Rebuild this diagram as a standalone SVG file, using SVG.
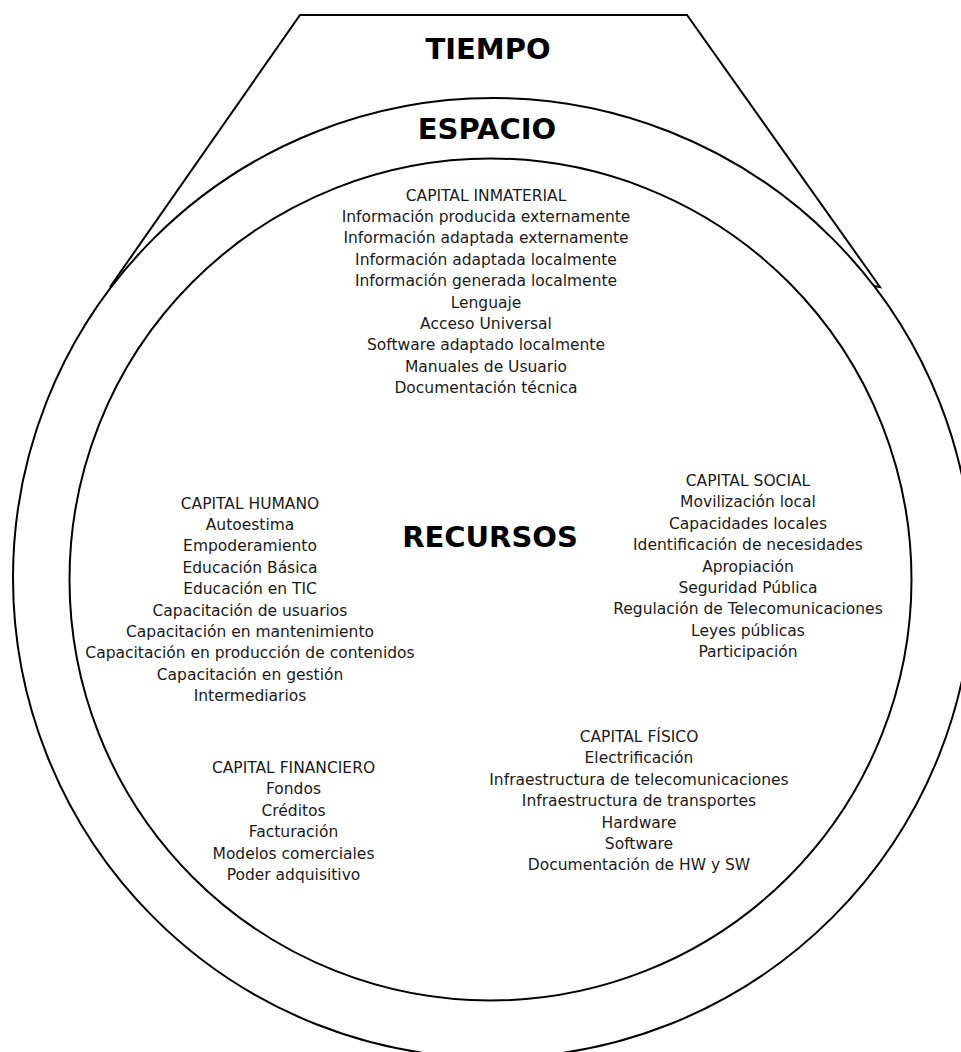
<svg xmlns="http://www.w3.org/2000/svg" width="961" height="1052" viewBox="0 0 961 1052">
<style>
.ln{fill:none;stroke:#000;stroke-width:2;stroke-linejoin:miter}
.big{font-family:"DejaVu Sans",sans-serif;font-weight:bold;font-size:29px;fill:#000;text-anchor:middle}
.t{font-family:"DejaVu Sans",sans-serif;font-size:15.5px;fill:#1a1a1a;text-anchor:middle}
</style>
<rect width="961" height="1052" fill="#fff"/>
<g id="tiempo">
<path class="ln" d="M110,287 L300,15 L687,15 L880,287 L874,286"/>
<text class="big" x="488" y="59">TIEMPO</text>
</g>
<g id="espacio">
<circle class="ln" cx="493" cy="578" r="480"/>
<text class="big" x="487" y="139">ESPACIO</text>
</g>
<g id="recursos">
<circle class="ln" cx="490.5" cy="579.5" r="421"/>
<text class="big" x="490" y="547">RECURSOS</text>
</g>
<g id="capital-inmaterial">
<text class="t" x="486" y="200.5">CAPITAL INMATERIAL</text>
<text class="t" x="486" y="221.9">Información producida externamente</text>
<text class="t" x="486" y="243.3">Información adaptada externamente</text>
<text class="t" x="486" y="264.7">Información adaptada localmente</text>
<text class="t" x="486" y="286.1">Información generada localmente</text>
<text class="t" x="486" y="307.5">Lenguaje</text>
<text class="t" x="486" y="328.9">Acceso Universal</text>
<text class="t" x="486" y="350.3">Software adaptado localmente</text>
<text class="t" x="486" y="371.7">Manuales de Usuario</text>
<text class="t" x="486" y="393.1">Documentación técnica</text>
</g>
<g id="capital-humano">
<text class="t" x="250" y="508.5">CAPITAL HUMANO</text>
<text class="t" x="250" y="529.9">Autoestima</text>
<text class="t" x="250" y="551.3">Empoderamiento</text>
<text class="t" x="250" y="572.7">Educación Básica</text>
<text class="t" x="250" y="594.1">Educación en TIC</text>
<text class="t" x="250" y="615.5">Capacitación de usuarios</text>
<text class="t" x="250" y="636.9">Capacitación en mantenimiento</text>
<text class="t" x="250" y="658.3">Capacitación en producción de contenidos</text>
<text class="t" x="250" y="679.7">Capacitación en gestión</text>
<text class="t" x="250" y="701.1">Intermediarios</text>
</g>
<g id="capital-social">
<text class="t" x="748" y="486">CAPITAL SOCIAL</text>
<text class="t" x="748" y="507.4">Movilización local</text>
<text class="t" x="748" y="528.8">Capacidades locales</text>
<text class="t" x="748" y="550.2">Identificación de necesidades</text>
<text class="t" x="748" y="571.6">Apropiación</text>
<text class="t" x="748" y="593">Seguridad Pública</text>
<text class="t" x="748" y="614.4">Regulación de Telecomunicaciones</text>
<text class="t" x="748" y="635.8">Leyes públicas</text>
<text class="t" x="748" y="657.2">Participación</text>
</g>
<g id="capital-fisico">
<text class="t" x="639" y="742">CAPITAL FÍSICO</text>
<text class="t" x="639" y="763.4">Electrificación</text>
<text class="t" x="639" y="784.8">Infraestructura de telecomunicaciones</text>
<text class="t" x="639" y="806.2">Infraestructura de transportes</text>
<text class="t" x="639" y="827.6">Hardware</text>
<text class="t" x="639" y="849">Software</text>
<text class="t" x="639" y="870.4">Documentación de HW y SW</text>
</g>
<g id="capital-financiero">
<text class="t" x="293.5" y="773">CAPITAL FINANCIERO</text>
<text class="t" x="293.5" y="794.4">Fondos</text>
<text class="t" x="293.5" y="815.8">Créditos</text>
<text class="t" x="293.5" y="837.2">Facturación</text>
<text class="t" x="293.5" y="858.6">Modelos comerciales</text>
<text class="t" x="293.5" y="880">Poder adquisitivo</text>
</g>
<g id="connectors"></g>
</svg>
